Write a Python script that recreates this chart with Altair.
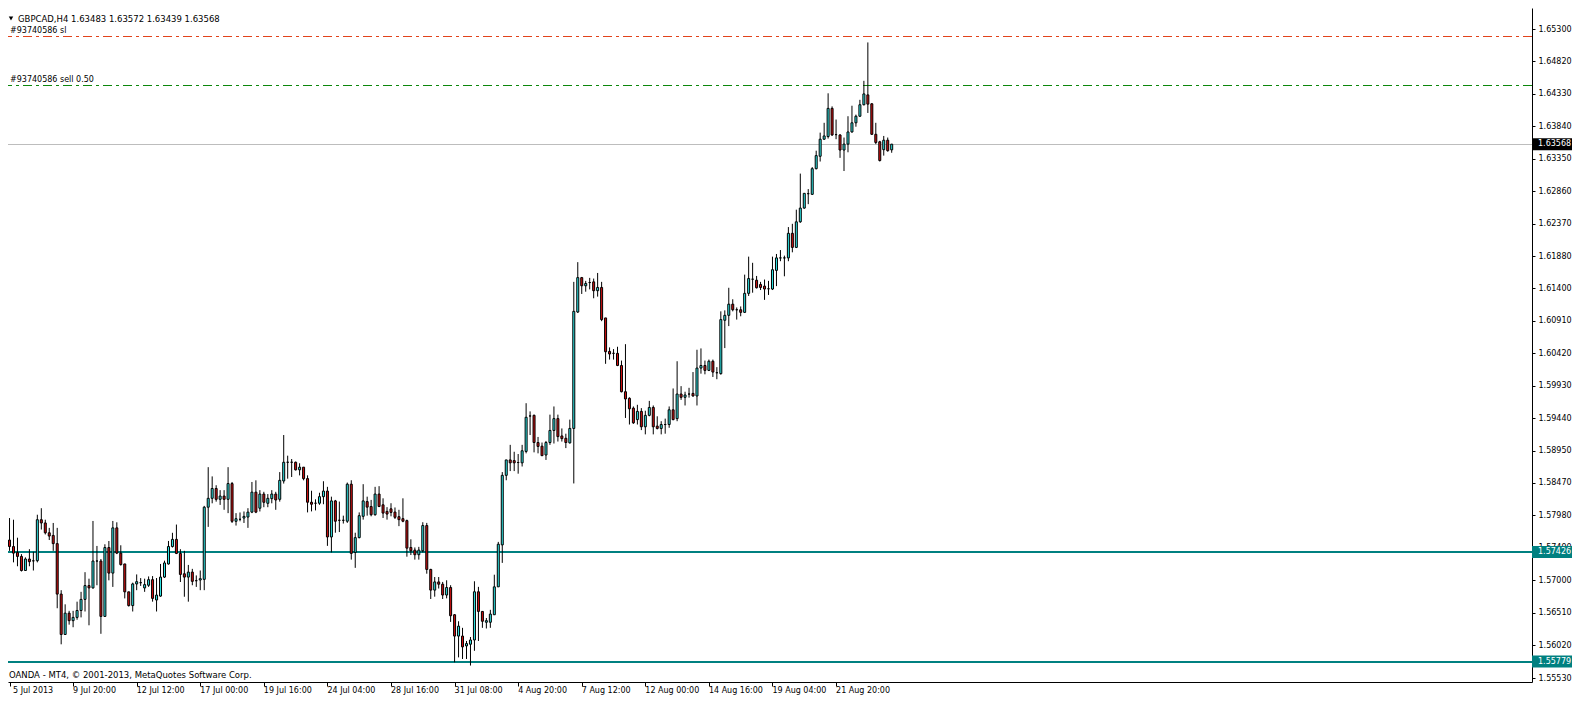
import altair as alt
import pandas as pd

# ---------------- data ----------------
OPEN = [1.57608,1.57510,1.57421,1.57361,1.57149,1.57322,1.57295,1.57297,1.57914,1.57865,
1.57717,1.57677,1.57554,1.56794,1.56186,1.56507,1.56394,1.56443,1.56547,1.56714,
1.56922,1.56887,1.57292,1.57292,1.56458,1.57495,1.57110,1.57791,1.57411,1.57248,
1.56828,1.56621,1.56947,1.56966,1.56887,1.56927,1.57011,1.56705,1.56764,1.57050,
1.57248,1.57510,1.57618,1.57406,1.57100,1.57050,1.57125,1.56996,1.57006,1.57016,
1.58102,1.58236,1.58384,1.58221,1.58270,1.58221,1.58458,1.57890,1.57920,1.57939,
1.57954,1.58028,1.58329,1.58087,1.58300,1.58161,1.58231,1.58300,1.58221,1.58497,
1.58779,1.58779,1.58779,1.58665,1.58705,1.58533,1.58177,1.58162,1.58162,1.58261,
1.58345,1.57654,1.58197,1.57905,1.57905,1.57891,1.58449,1.57421,1.57644,1.57965,
1.58187,1.58113,1.57989,1.58300,1.58138,1.58039,1.58078,1.58029,1.57960,1.57930,
1.57900,1.57496,1.57456,1.57387,1.57446,1.57826,1.57165,1.56854,1.56977,1.56943,
1.56780,1.56893,1.56483,1.56162,1.56162,1.56014,1.56039,1.56103,1.56829,1.56533,
1.56370,1.56370,1.56483,1.56903,1.57535,1.58582,1.58814,1.58804,1.58775,1.58770,
1.58942,1.59476,1.59486,1.59076,1.59021,1.58888,1.59076,1.59258,1.59436,1.59175,
1.59140,1.59071,1.59288,1.61041,1.61559,1.61436,1.61485,1.61495,1.61362,1.61411,
1.60952,1.60448,1.60419,1.60419,1.60236,1.59841,1.59742,1.59594,1.59421,1.59545,
1.59313,1.59485,1.59604,1.59323,1.59288,1.59347,1.59347,1.59569,1.59436,1.59806,
1.59757,1.59806,1.59816,1.59777,1.60197,1.60236,1.60162,1.60300,1.60127,1.60113,
1.60917,1.60991,1.61159,1.61075,1.61075,1.61036,1.61322,1.61535,1.61520,1.61456,
1.61431,1.61391,1.61387,1.61668,1.61856,1.61856,1.61856,1.62226,1.62014,1.62399,
1.62606,1.62823,1.62813,1.63199,1.63386,1.63643,1.63683,1.64107,1.63712,1.63707,
1.63480,1.63569,1.63752,1.63890,1.63989,1.64162,1.64310,1.64176,1.63717,1.63604,
1.63485,1.63628,1.63483]

HIGH = [1.57939,1.57914,1.57643,1.57396,1.57347,1.57470,1.57431,1.57989,1.58087,1.57914,
1.57791,1.57865,1.57791,1.56853,1.56640,1.56542,1.56542,1.56680,1.56828,1.57124,
1.57026,1.57895,1.57519,1.57322,1.57544,1.57593,1.57895,1.57875,1.57529,1.57248,
1.56828,1.56966,1.57090,1.57035,1.57026,1.57060,1.57065,1.57036,1.57248,1.57297,
1.57594,1.57717,1.57841,1.57470,1.57445,1.57233,1.57174,1.57075,1.57149,1.58122,
1.58705,1.58566,1.58433,1.58359,1.58359,1.58705,1.58482,1.58013,1.58023,1.58038,
1.58087,1.58482,1.58507,1.58359,1.58334,1.58300,1.58359,1.58334,1.58631,1.59189,
1.58878,1.58828,1.58789,1.58764,1.58705,1.58582,1.58350,1.58221,1.58320,1.58493,
1.58409,1.58261,1.58212,1.58187,1.57975,1.58473,1.58508,1.57718,1.58024,1.58449,
1.58261,1.58212,1.58409,1.58419,1.58236,1.58103,1.58162,1.58098,1.58063,1.58236,
1.57915,1.57619,1.57496,1.57505,1.57876,1.57866,1.57175,1.57051,1.57051,1.56977,
1.57002,1.56928,1.56493,1.56385,1.56286,1.56088,1.56148,1.56987,1.56903,1.56533,
1.56434,1.56557,1.57086,1.57580,1.58631,1.58814,1.59041,1.58937,1.58903,1.59041,
1.59668,1.59545,1.59496,1.59160,1.59076,1.59100,1.59496,1.59619,1.59496,1.59288,
1.59209,1.59421,1.61495,1.61792,1.61569,1.61510,1.61555,1.61545,1.61629,1.61495,
1.60952,1.60508,1.60483,1.60518,1.60310,1.60557,1.59757,1.59619,1.59644,1.59594,
1.59555,1.59703,1.59634,1.59471,1.59397,1.59436,1.59619,1.59890,1.60300,1.59925,
1.59841,1.59900,1.60137,1.60473,1.60493,1.60310,1.60325,1.60325,1.60211,1.61051,
1.61066,1.61406,1.61233,1.61110,1.61125,1.61604,1.61875,1.61782,1.61584,1.61495,
1.61530,1.61510,1.61875,1.61915,1.61974,1.61890,1.62320,1.62369,1.62582,1.63125,
1.62828,1.62892,1.63223,1.63470,1.63742,1.63890,1.64334,1.64137,1.63939,1.63717,
1.63668,1.63989,1.64147,1.64013,1.64236,1.64522,1.65100,1.64186,1.63890,1.63619,
1.63692,1.63668,1.63572]

LOW = [1.57445,1.57272,1.57213,1.57134,1.57149,1.57213,1.57149,1.57272,1.57766,1.57692,
1.57608,1.57445,1.56581,1.56038,1.56186,1.56334,1.56295,1.56408,1.56443,1.56532,
1.56324,1.56877,1.56927,1.56196,1.56458,1.57001,1.56902,1.57396,1.57223,1.56729,
1.56606,1.56532,1.56853,1.56917,1.56828,1.56902,1.56680,1.56532,1.56754,1.57036,
1.57238,1.57495,1.57396,1.56976,1.56754,1.56680,1.56927,1.56902,1.56853,1.56853,
1.57806,1.58161,1.58186,1.58137,1.58063,1.58013,1.57865,1.57826,1.57890,1.57865,
1.57791,1.58013,1.58013,1.58038,1.58102,1.58102,1.58161,1.58063,1.58186,1.58458,
1.58532,1.58557,1.58655,1.58581,1.58507,1.58024,1.58039,1.58054,1.58138,1.58147,
1.57520,1.57421,1.57718,1.57728,1.57856,1.57866,1.57313,1.57189,1.57634,1.57915,
1.57975,1.57965,1.57975,1.58103,1.57940,1.57915,1.57965,1.57925,1.57817,1.57876,
1.57357,1.57382,1.57313,1.57313,1.57421,1.57101,1.56720,1.56755,1.56878,1.56720,
1.56730,1.56375,1.55767,1.55841,1.55817,1.55817,1.55718,1.55940,1.56088,1.56286,
1.56276,1.56286,1.56483,1.56903,1.57264,1.58508,1.58646,1.58646,1.58607,1.58715,
1.58913,1.59189,1.58928,1.58913,1.58878,1.58814,1.59041,1.59061,1.59091,1.59091,
1.58992,1.59061,1.58460,1.61026,1.61313,1.61347,1.61382,1.61248,1.61273,1.60903,
1.60261,1.60325,1.60325,1.60226,1.59831,1.59446,1.59347,1.59357,1.59347,1.59263,
1.59199,1.59471,1.59199,1.59273,1.59199,1.59209,1.59298,1.59411,1.59397,1.59718,
1.59634,1.59752,1.59767,1.59634,1.60113,1.60103,1.60152,1.60063,1.60029,1.60098,
1.60498,1.60829,1.61051,1.60927,1.60977,1.61026,1.61283,1.61332,1.61396,1.61372,
1.61224,1.61298,1.61372,1.61431,1.61806,1.61579,1.61806,1.61940,1.62004,1.62384,
1.62596,1.62665,1.62804,1.63189,1.63307,1.63633,1.63653,1.63692,1.63643,1.63362,
1.63164,1.63446,1.63742,1.63831,1.63979,1.64152,1.64038,1.63707,1.63569,1.63307,
1.63396,1.63455,1.63439]

CLOSE = [1.57510,1.57411,1.57361,1.57149,1.57322,1.57282,1.57295,1.57914,1.57865,1.57717,
1.57668,1.57554,1.56794,1.56186,1.56507,1.56394,1.56443,1.56547,1.56714,1.56922,
1.56887,1.57292,1.57292,1.56458,1.57495,1.57110,1.57791,1.57411,1.57238,1.56828,
1.56621,1.56947,1.56981,1.56966,1.56937,1.57011,1.56729,1.56779,1.57050,1.57263,
1.57510,1.57618,1.57406,1.57090,1.57050,1.57125,1.56986,1.56996,1.57026,1.58102,
1.58236,1.58384,1.58221,1.58270,1.58221,1.58458,1.57890,1.57929,1.57920,1.57964,
1.58028,1.58329,1.58028,1.58300,1.58176,1.58236,1.58300,1.58211,1.58507,1.58779,
1.58779,1.58779,1.58665,1.58705,1.58532,1.58177,1.58147,1.58162,1.58261,1.58345,
1.57654,1.58197,1.57891,1.57905,1.57905,1.58449,1.57407,1.57644,1.57975,1.58197,
1.58103,1.57989,1.58300,1.58113,1.58014,1.57999,1.58024,1.57950,1.57915,1.57891,
1.57486,1.57446,1.57387,1.57456,1.57826,1.57165,1.56854,1.56977,1.56943,1.56780,
1.56893,1.56468,1.56162,1.56311,1.55999,1.56049,1.56103,1.56829,1.56533,1.56385,
1.56394,1.56493,1.56903,1.57545,1.58582,1.58814,1.58770,1.58770,1.58775,1.58952,
1.59456,1.59476,1.59076,1.59017,1.58878,1.59076,1.59258,1.59436,1.59165,1.59135,
1.59076,1.59288,1.61051,1.61559,1.61436,1.61471,1.61485,1.61362,1.61411,1.60927,
1.60443,1.60409,1.60419,1.60236,1.59841,1.59732,1.59584,1.59372,1.59545,1.59313,
1.59485,1.59604,1.59313,1.59288,1.59347,1.59347,1.59569,1.59421,1.59806,1.59757,
1.59792,1.59806,1.59777,1.60197,1.60236,1.60162,1.60300,1.60137,1.60127,1.60927,
1.60991,1.61159,1.61075,1.61075,1.61036,1.61322,1.61545,1.61535,1.61406,1.61411,
1.61387,1.61391,1.61678,1.61856,1.61856,1.61856,1.62226,1.62014,1.62399,1.62606,
1.62828,1.62823,1.63199,1.63396,1.63643,1.63692,1.64107,1.63707,1.63712,1.63480,
1.63569,1.63752,1.63890,1.63989,1.64162,1.64325,1.64171,1.63717,1.63594,1.63322,
1.63628,1.63470,1.63568]

DATE_TICK_BARS = [0, 16, 32, 48, 64, 80, 96, 112, 128, 144, 160, 176, 192, 208]
DATE_LABELS = ["5 Jul 2013", "9 Jul 20:00", "12 Jul 12:00", "17 Jul 00:00", "19 Jul 16:00",
               "24 Jul 04:00", "28 Jul 16:00", "31 Jul 08:00", "4 Aug 20:00", "7 Aug 12:00",
               "12 Aug 00:00", "14 Aug 16:00", "19 Aug 04:00", "21 Aug 20:00"]
PRICE_TICKS = [1.65300, 1.64820, 1.64330, 1.63840, 1.63350, 1.62860, 1.62370, 1.61880,
               1.61400, 1.60910, 1.60420, 1.59930, 1.59440, 1.58950, 1.58470, 1.57980,
               1.57490, 1.57000, 1.56510, 1.56020, 1.55530]

SL_PRICE = 1.65184
ORDER_PRICE = 1.64448
BID_PRICE = 1.63568
LEVELS = [1.57426, 1.55779]
SYMBOL = "GBPCAD,H4"
ORDER_TEXT = "#93740586 sell 0.50"
SL_TEXT = "#93740586 sl"
FOOTER = "OANDA - MT4, \u00a9 2001-2013, MetaQuotes Software Corp."

# ---------------- frame ----------------
df = pd.DataFrame({"i": range(len(OPEN)), "o": OPEN, "h": HIGH, "l": LOW, "c": CLOSE})
df["dir"] = ["up" if c > o else ("down" if c < o else "flat") for o, c in zip(df.o, df.c)]

W, H = 1524, 674
FONT = "DejaVu Sans"
CYAN = "#2ee6e6"
RED = "#d01010"
TEAL = "#008080"

# 4 px per bar, bar centres on half pixels so candles render crisp
X0 = 0.875
Y_DOMAIN = [1.554704, 1.656185]
xs = alt.Scale(domain=[X0, X0 + W / 4], nice=False, zero=False)
ys = alt.Scale(domain=Y_DOMAIN, nice=False, zero=False)


def snap(price, width=1):
    """Sub-pixel nudge so a horizontal line of the given width renders crisp."""
    y = (Y_DOMAIN[1] - price) / (Y_DOMAIN[1] - Y_DOMAIN[0]) * H
    target = (round(y - 0.5) + 0.5) if width % 2 else round(y)
    return target - y


x_axis = alt.Axis(values=DATE_TICK_BARS, labels=False, orient="bottom", grid=False,
                  tickSize=4, title=None)
y_axis = alt.Axis(values=PRICE_TICKS, format=".5f", orient="right", grid=False,
                  tickSize=3, labelPadding=3, labelOverlap=False, labelFlush=False, title=None)

X = alt.X("i:Q", scale=xs, axis=x_axis)

wicks = alt.Chart(df).mark_rule(color="black", strokeWidth=1).encode(
    x=X, y=alt.Y("l:Q", scale=ys, axis=y_axis), y2="h:Q")
bodies = alt.Chart(df).mark_bar(size=2, stroke="black", strokeWidth=1).encode(
    x=X, y=alt.Y("o:Q", scale=ys, axis=y_axis), y2="c:Q",
    fill=alt.Fill("dir:N", scale=alt.Scale(domain=["up", "down", "flat"],
                                           range=[CYAN, RED, "black"]), legend=None))

Yp = alt.Y("p:Q", scale=ys, axis=y_axis)


def hline(prices, color, width=1, dash=None):
    kw = dict(color=color, strokeWidth=width, yOffset=snap(prices[0], width))
    if dash:
        kw["strokeDash"] = dash
    return alt.Chart(pd.DataFrame({"p": prices})).mark_rule(**kw).encode(y=Yp)


sl_line = hline([SL_PRICE], "#e2431c", 1, [9, 4, 3, 4])
order_line = hline([ORDER_PRICE], "#0c870c", 1, [9, 4, 3, 4])
bid_line = hline([BID_PRICE], "#bdbdbd", 1)
teal_1 = hline([LEVELS[0]], TEAL, 2)
teal_2 = hline([LEVELS[1]], TEAL, 2)

line_labels = alt.Chart(pd.DataFrame({"p": [SL_PRICE, ORDER_PRICE],
                                      "t": [SL_TEXT, ORDER_TEXT]})).mark_text(
    align="left", baseline="middle", dy=-6, font=FONT, fontSize=8, color="black").encode(
    x=alt.value(2), y=Yp, text="t:N")

# date labels under the axis (first one kept inside the visible area)
date_labels = alt.Chart(pd.DataFrame({"i": DATE_TICK_BARS, "t": DATE_LABELS})).transform_calculate(
    xi=f"max(datum.i, {X0})").mark_text(
    align="left", baseline="top", font=FONT, fontSize=8, color="black").encode(
    x=alt.X("xi:Q", scale=xs, axis=x_axis), y=alt.value(H + 5), text="t:N")

# right-hand price boxes
box_df = pd.DataFrame({"p": [BID_PRICE] + LEVELS, "kind": ["bid", "lvl", "lvl"]})
box_df["t"] = [f"{v:.5f}" for v in box_df.p]
boxes = alt.Chart(box_df).mark_tick(orient="horizontal", thickness=12, size=42, opacity=1).encode(
    x=alt.value(W + 21), y=Yp,
    color=alt.Color("kind:N", scale=alt.Scale(domain=["bid", "lvl"], range=["black", TEAL]),
                    legend=None))
box_text = alt.Chart(box_df).mark_text(
    align="left", baseline="middle", font=FONT, fontSize=8, color="white").encode(
    x=alt.value(W + 6), y=Yp, text="t:N")

# header and footer text
last = df.iloc[-1]
title_str = f"{SYMBOL}  {last.o:.5f} {last.h:.5f} {last.l:.5f} {last.c:.5f}"
header = alt.Chart(pd.DataFrame({"t": [title_str]})).mark_text(
    align="left", baseline="middle", font=FONT, fontSize=8.5, color="black").encode(
    x=alt.value(10), y=alt.value(10.5), text="t:N")
arrow = alt.Chart(pd.DataFrame({"t": [1]})).mark_point(
    shape="triangle-down", filled=True, color="black", size=20, opacity=1).encode(
    x=alt.value(3), y=alt.value(10.5))
footer = alt.Chart(pd.DataFrame({"t": [FOOTER]})).mark_text(
    align="left", baseline="middle", font=FONT, fontSize=8.5, color="black").encode(
    x=alt.value(1), y=alt.value(667), text="t:N")

chart = alt.layer(
    sl_line, order_line, bid_line, teal_1, teal_2,
    wicks, bodies,
    line_labels, date_labels, boxes, box_text, header, arrow, footer
).properties(
    width=W, height=H,
    padding={"left": 0, "top": 0, "right": 40, "bottom": 13},
    autosize=alt.AutoSizeParams(type="none"),
    background="white",
).configure_view(stroke=None).configure_axis(
    domainColor="black", domainWidth=1, tickColor="black", tickWidth=1,
    labelFont=FONT, labelFontSize=8, labelColor="black",
)

chart.save("out.html", embed_options={"renderer": "svg", "actions": False})
